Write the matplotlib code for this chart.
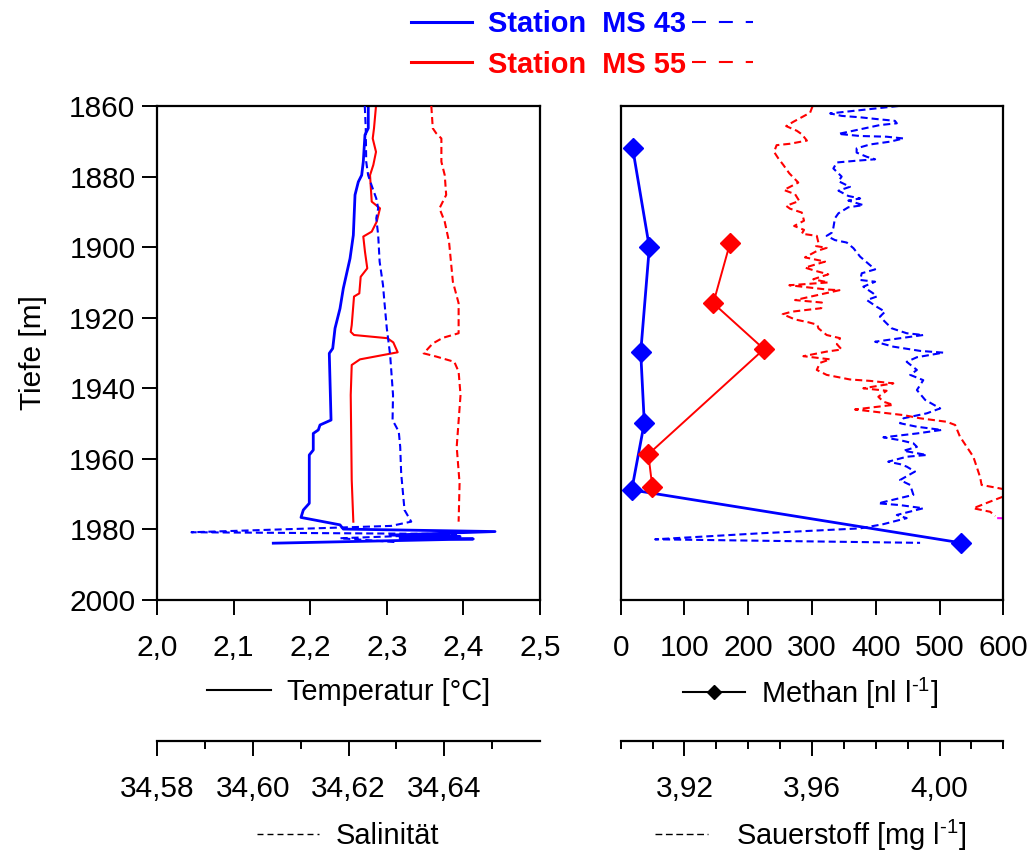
import matplotlib
matplotlib.use("Agg")
import matplotlib.pyplot as plt
from matplotlib.lines import Line2D
from matplotlib.ticker import FuncFormatter

plt.rcParams["font.family"] = ["Liberation Sans", "DejaVu Sans"]
plt.rcParams["mathtext.fontset"] = "custom"
plt.rcParams["mathtext.rm"] = "Liberation Sans"
plt.rcParams["font.size"] = 21

BLUE = "#0000ff"
RED = "#ff0000"

# Temperatur MS 43
temp43 = [2.2758, 2.2758, 2.2715, 2.2693, 2.2672, 2.2628, 2.2585, 2.2563, 2.2520, 2.2432,
          2.2389, 2.2324, 2.2294, 2.2249, 2.2272, 2.2128, 2.2106, 2.2040, 2.2040, 2.1988,
          2.1988, 2.1910, 2.1880, 2.2389, 2.2432, 2.4413, 2.3042, 2.3956, 2.3172, 2.4129,
          2.1518]
temp43_depth = [1860.0, 1866.3, 1868.2, 1875.8, 1879.6, 1881.5, 1885.2, 1896.6, 1903.2, 1911.7,
                1917.4, 1923.0, 1928.7, 1930.1, 1949.0, 1950.4, 1951.8, 1952.8, 1957.5, 1958.9,
                1972.6, 1974.5, 1976.6, 1978.7, 1979.9, 1980.6, 1981.6, 1982.0, 1982.4, 1982.7,
                1983.9]

# Temperatur MS 55
temp55 = [2.2859, 2.2833, 2.2816, 2.2859, 2.2824, 2.2781, 2.2803, 2.2911, 2.2868, 2.2803,
          2.2693, 2.2715, 2.2745, 2.2659, 2.2641, 2.2572, 2.2542, 2.2529, 2.2572, 2.3007,
          2.3085, 2.3142, 2.2650, 2.2542, 2.2529, 2.2542, 2.2563]
temp55_depth = [1860.0, 1866.3, 1869.2, 1873.0, 1876.7, 1879.6, 1887.1, 1889.0, 1892.8, 1895.6,
                1897.0, 1901.3, 1906.0, 1908.4, 1913.1, 1914.0, 1922.1, 1924.0, 1924.9, 1925.8,
                1927.0, 1929.8, 1931.8, 1933.4, 1941.9, 1966.0, 1977.8]

# Salinitaet MS 43
sal43 = [34.6234, 34.6236, 34.6237, 34.6241, 34.6248, 34.6258, 34.6262, 34.6258, 34.6262, 34.6265,
         34.6272, 34.6275, 34.6280, 34.6287, 34.6293, 34.6292, 34.6305, 34.6308, 34.6310, 34.6317,
         34.6331, 34.6289, 34.5872, 34.6425, 34.6182, 34.6300]
sal43_depth = [1860.0, 1866.3, 1875.8, 1879.6, 1882.4, 1886.2, 1889.0, 1891.8, 1896.6, 1904.1,
               1910.7, 1915.5, 1923.0, 1930.6, 1941.9, 1949.0, 1952.3, 1956.6, 1964.1, 1974.5,
               1977.8, 1979.0, 1980.8, 1981.3, 1982.5, 1983.6]

# Salinitaet MS 55
sal55 = [34.6373, 34.6376, 34.6383, 34.6394, 34.6394, 34.6401, 34.6404, 34.6390, 34.6401, 34.6410,
         34.6418, 34.6430, 34.6430, 34.6397, 34.6376, 34.6357, 34.6383, 34.6421, 34.6430, 34.6434,
         34.6426, 34.6432, 34.6430]
sal55_depth = [1860.0, 1866.3, 1867.7, 1869.2, 1875.8, 1879.6, 1885.2, 1889.0, 1892.8, 1898.5,
               1909.8, 1915.9, 1924.4, 1925.7, 1927.3, 1930.1, 1931.0, 1932.5, 1935.3, 1941.9,
               1956.6, 1966.9, 1977.8]

# Methan
ch4_43 = [18.8, 44.9, 31.4, 37.0, 17.3, 533.7]
ch4_43_depth = [1872.0, 1900.0, 1929.8, 1949.8, 1968.8, 1983.8]
ch4_55 = [171.4, 145.2, 224.7, 43.3, 49.6]
ch4_55_depth = [1898.9, 1915.9, 1928.9, 1958.7, 1967.9]

# Sauerstoff MS 43
o2_43 = [3.9871, 3.9657, 3.9693, 3.9751, 3.9803, 3.9860, 3.9866, 3.9813, 3.9751, 3.9683,
         3.9751, 3.9834, 3.9887, 3.9845, 3.9782, 3.9740, 3.9740, 3.9772, 3.9798, 3.9740,
         3.9678, 3.9667, 3.9693, 3.9683, 3.9719, 3.9683, 3.9714, 3.9751, 3.9714, 3.9761,
         3.9714, 3.9683, 3.9672, 3.9667, 3.9662, 3.9646, 3.9672, 3.9709, 3.9730, 3.9751,
         3.9782, 3.9798, 3.9756, 3.9751, 3.9798, 3.9761, 3.9792, 3.9803, 3.9772, 3.9803,
         3.9829, 3.9813, 3.9834, 3.9850, 3.9897, 3.9949, 3.9798, 3.9855, 3.9939, 4.0012,
         3.9929, 3.9897, 3.9929, 3.9908, 3.9949, 3.9929, 3.9955, 4.0002, 3.9960, 3.9887,
         3.9876, 3.9929, 4.0007, 3.9929, 3.9824, 3.9876, 3.9918, 3.9929, 3.9887, 3.9960,
         3.9897, 3.9839, 3.9876, 3.9897, 3.9923, 3.9876, 3.9908, 3.9918, 3.9808, 3.9876,
         3.9949, 3.9866, 3.9897, 3.9824, 3.9751, 3.9594, 3.9437, 3.9108, 3.9437, 3.9939]
o2_43_depth = [1860.0, 1862.1, 1862.8, 1863.2, 1863.7, 1864.2, 1864.9, 1865.4, 1866.6, 1867.9,
               1868.5, 1868.7, 1869.2, 1870.1, 1870.9, 1872.0, 1873.2, 1874.4, 1875.1, 1875.5,
               1876.0, 1877.7, 1880.0, 1881.3, 1882.9, 1884.0, 1885.5, 1886.2, 1886.8, 1888.1,
               1888.7, 1890.4, 1891.8, 1894.5, 1895.9, 1896.8, 1898.0, 1898.7, 1900.3, 1902.7,
               1905.1, 1906.3, 1907.4, 1909.3, 1909.8, 1911.2, 1913.1, 1914.0, 1915.0, 1916.9,
               1918.3, 1919.7, 1921.6, 1923.0, 1924.4, 1924.9, 1926.8, 1928.2, 1929.4, 1929.9,
               1931.2, 1932.5, 1934.8, 1936.2, 1937.7, 1940.5, 1943.3, 1945.7, 1947.1, 1948.5,
               1949.9, 1950.9, 1951.8, 1952.8, 1953.9, 1954.7, 1955.6, 1956.6, 1957.7, 1958.9,
               1959.4, 1960.8, 1961.5, 1962.2, 1963.6, 1966.0, 1967.4, 1970.2, 1972.6, 1973.1,
               1974.0, 1975.9, 1976.8, 1978.5, 1979.7, 1980.4, 1981.1, 1982.8, 1983.2, 1983.8]

# Sauerstoff MS 55
o2_55 = [3.9602, 3.9594, 3.9541, 3.9519, 3.9552, 3.9568, 3.9584, 3.9531, 3.9489, 3.9481,
         3.9494, 3.9510, 3.9529, 3.9557, 3.9512, 3.9547, 3.9560, 3.9519, 3.9531, 3.9568,
         3.9575, 3.9544, 3.9575, 3.9568, 3.9615, 3.9620, 3.9613, 3.9646, 3.9615, 3.9578,
         3.9615, 3.9641, 3.9578, 3.9610, 3.9651, 3.9604, 3.9651, 3.9529, 3.9646, 3.9686,
         3.9547, 3.9631, 3.9629, 3.9536, 3.9508, 3.9547, 3.9589, 3.9617, 3.9620, 3.9646,
         3.9688, 3.9678, 3.9693, 3.9646, 3.9573, 3.9657, 3.9625, 3.9615, 3.9646, 3.9719,
         3.9782, 3.9855, 3.9761, 3.9834, 3.9808, 3.9824, 3.9855, 3.9735, 3.9887, 3.9939,
         4.0023, 4.0049, 4.0064, 4.0106, 4.0127, 4.0132, 4.0185, 4.0240, 4.0159, 4.0106,
         4.0159, 4.0175]
o2_55_depth = [1860.0, 1861.9, 1864.5, 1865.7, 1867.0, 1868.0, 1869.8, 1870.7, 1871.1, 1873.0,
               1874.8, 1876.7, 1879.1, 1881.7, 1883.8, 1885.0, 1886.9, 1888.3, 1889.1, 1890.2,
               1892.5, 1894.0, 1895.1, 1896.2, 1896.8, 1898.7, 1899.7, 1900.2, 1901.1, 1902.9,
               1903.6, 1904.1, 1905.8, 1906.7, 1907.7, 1909.1, 1910.0, 1910.8, 1912.0, 1912.2,
               1915.0, 1915.7, 1917.3, 1918.3, 1919.0, 1920.5, 1921.3, 1922.0, 1923.0, 1924.9,
               1925.8, 1927.5, 1929.0, 1929.6, 1930.9, 1931.8, 1932.8, 1934.8, 1936.2, 1937.5,
               1937.9, 1938.6, 1940.0, 1940.7, 1942.4, 1943.8, 1944.7, 1946.0, 1947.6, 1948.5,
               1949.5, 1950.4, 1953.7, 1959.4, 1965.1, 1967.4, 1968.3, 1969.3, 1972.1, 1974.0,
               1975.0, 1976.2]

# kleines Stueck am rechten Rand (magenta)
o2_extra = [4.0184, 4.0260]
o2_extra_depth = [1976.8, 1977.0]

temp_ticks = [2.0, 2.1, 2.2, 2.3, 2.4, 2.5]
ch4_ticks = [0, 100, 200, 300, 400, 500, 600]
depth_ticks = [1860, 1880, 1900, 1920, 1940, 1960, 1980, 2000]
sal_ticks = [34.58, 34.60, 34.62, 34.64]
sal_minor = [34.59, 34.61, 34.63, 34.65]
o2_ticks = [3.92, 3.96, 4.00]
o2_minor = [3.90, 3.91, 3.93, 3.94, 3.95, 3.97, 3.98, 3.99, 4.01, 4.02]

DASH = (0, (3.4, 1.9))
TICK_SIZE = 21.5
LABEL_SIZE = 20.9


def comma(fmt):
    return FuncFormatter(lambda v, pos: (fmt % v).replace(".", ","))


def style_main(ax):
    for sp in ax.spines.values():
        sp.set_linewidth(1.6)
    ax.tick_params(axis="both", direction="out", length=10.5, width=1.4,
                   labelsize=TICK_SIZE, colors="black")
    ax.tick_params(axis="x", pad=14)
    ax.tick_params(axis="y", pad=5)


def style_lower(ax, offset):
    for name in ["top", "left", "right"]:
        ax.spines[name].set_visible(False)
    ax.spines["bottom"].set_position(("outward", offset))
    ax.spines["bottom"].set_linewidth(1.6)
    ax.xaxis.set_ticks_position("bottom")
    ax.xaxis.set_label_position("bottom")
    ax.tick_params(axis="x", which="major", direction="out", length=10.5, width=1.4,
                   labelsize=TICK_SIZE, pad=14)
    ax.tick_params(axis="x", which="minor", direction="out", length=5.5, width=1.4)


fig = plt.figure(figsize=(10.34, 8.52), dpi=100)
ax_l = fig.add_axes([0.15184, 0.29577, 0.37041, 0.57981])
ax_r = fig.add_axes([0.60029, 0.29577, 0.37002, 0.57981], sharey=ax_l)

# linkes Panel: Temperatur + Salinitaet
ax_l.plot(temp43, temp43_depth, color=BLUE, lw=2.0)
ax_l.plot(temp55, temp55_depth, color=RED, lw=1.5)
ax_l.set_xlim(2.0, 2.5)
ax_l.set_ylim(2000, 1860)
ax_l.set_xticks(temp_ticks)
ax_l.xaxis.set_major_formatter(comma("%.1f"))
ax_l.set_yticks(depth_ticks)
ax_l.set_ylabel("Tiefe [m]", fontsize=21.5)
ax_l.yaxis.set_label_coords(-0.287, 0.5)
style_main(ax_l)

ax_sal = ax_l.twiny()
ax_sal.plot(sal43, sal43_depth, color=BLUE, lw=1.5, linestyle=DASH)
ax_sal.plot(sal55, sal55_depth, color=RED, lw=1.5, linestyle=DASH)
ax_sal.set_xlim(34.58, 34.66)
ax_sal.set_xticks(sal_ticks)
ax_sal.set_xticks(sal_minor, minor=True)
ax_sal.xaxis.set_major_formatter(comma("%.2f"))
style_lower(ax_sal, 101.5)

# rechtes Panel: Methan + Sauerstoff
ax_o2 = ax_r.twiny()
ax_o2.plot(o2_43, o2_43_depth, color=BLUE, lw=1.5, linestyle=DASH)
ax_o2.plot(o2_55, o2_55_depth, color=RED, lw=1.5, linestyle=DASH)
ax_o2.plot(o2_extra, o2_extra_depth, color="#ff00ff", lw=1.5)
ax_o2.set_xlim(3.90, 4.02)
ax_o2.set_xticks(o2_ticks)
ax_o2.set_xticks(o2_minor, minor=True)
ax_o2.xaxis.set_major_formatter(comma("%.2f"))
style_lower(ax_o2, 101.5)

ax_r.plot(ch4_43, ch4_43_depth, color=BLUE, lw=2.0, marker="D", markersize=10, zorder=5)
ax_r.plot(ch4_55, ch4_55_depth, color=RED, lw=1.4, marker="D", markersize=10, zorder=5)
ax_r.set_xlim(0, 600)
ax_r.set_xticks(ch4_ticks)
style_main(ax_r)
ax_r.tick_params(axis="y", left=False, labelleft=False)
ax_r.set_zorder(ax_o2.get_zorder() + 1)
ax_r.patch.set_visible(False)

# Legende oben
top_dash = (0, (6.7, 6.2))
top_handles = [Line2D([], [], color=BLUE, lw=2.2),
               Line2D([], [], color=RED, lw=2.2),
               Line2D([], [], color=BLUE, lw=1.5, linestyle=top_dash),
               Line2D([], [], color=RED, lw=1.5, linestyle=top_dash)]
leg = fig.legend(top_handles, ["Station  MS 43", "Station  MS 55", "", ""], ncol=2,
                 loc="center left", bbox_to_anchor=(411 / 1034, 1 - 44.5 / 852),
                 frameon=False, handlelength=2.1, handletextpad=0.55,
                 columnspacing=0.2, labelspacing=0.42, borderpad=0, borderaxespad=0,
                 prop={"weight": "bold", "size": 20.9})
for txt, col in zip(leg.get_texts(), [BLUE, RED, BLUE, RED]):
    txt.set_color(col)

# Achsenbeschriftungen als Legenden
fig.legend([Line2D([], [], color="black", lw=1.5)], ["Temperatur [°C]"],
           loc="center left", bbox_to_anchor=(207 / 1034, 1 - 692 / 852),
           frameon=False, handlelength=2.2, handletextpad=0.56,
           borderpad=0, borderaxespad=0, fontsize=LABEL_SIZE)
fig.legend([Line2D([], [], color="black", lw=1.5, marker="D", markersize=7)],
           [r"Methan [nl l$^{\text{-1}}$]"],
           loc="center left", bbox_to_anchor=(683 / 1034, 1 - 693 / 852),
           frameon=False, handlelength=2.13, handletextpad=0.56,
           borderpad=0, borderaxespad=0, fontsize=LABEL_SIZE)
fig.legend([Line2D([], [], color="black", lw=1.0, linestyle=(0, (4.3, 2.9)))], ["Salinität"],
           loc="center left", bbox_to_anchor=(257 / 1034, 1 - 836 / 852),
           frameon=False, handlelength=2.13, handletextpad=0.58,
           borderpad=0, borderaxespad=0, fontsize=LABEL_SIZE)
fig.legend([Line2D([], [], color="black", lw=1.0, linestyle=(0, (4.9, 2.6)))],
           [r"Sauerstoff [mg l$^{\text{-1}}$]"],
           loc="center left", bbox_to_anchor=(655 / 1034, 1 - 835 / 852),
           frameon=False, handlelength=1.82, handletextpad=0.97,
           borderpad=0, borderaxespad=0, fontsize=LABEL_SIZE)

fig.savefig("out.png", dpi=100)
